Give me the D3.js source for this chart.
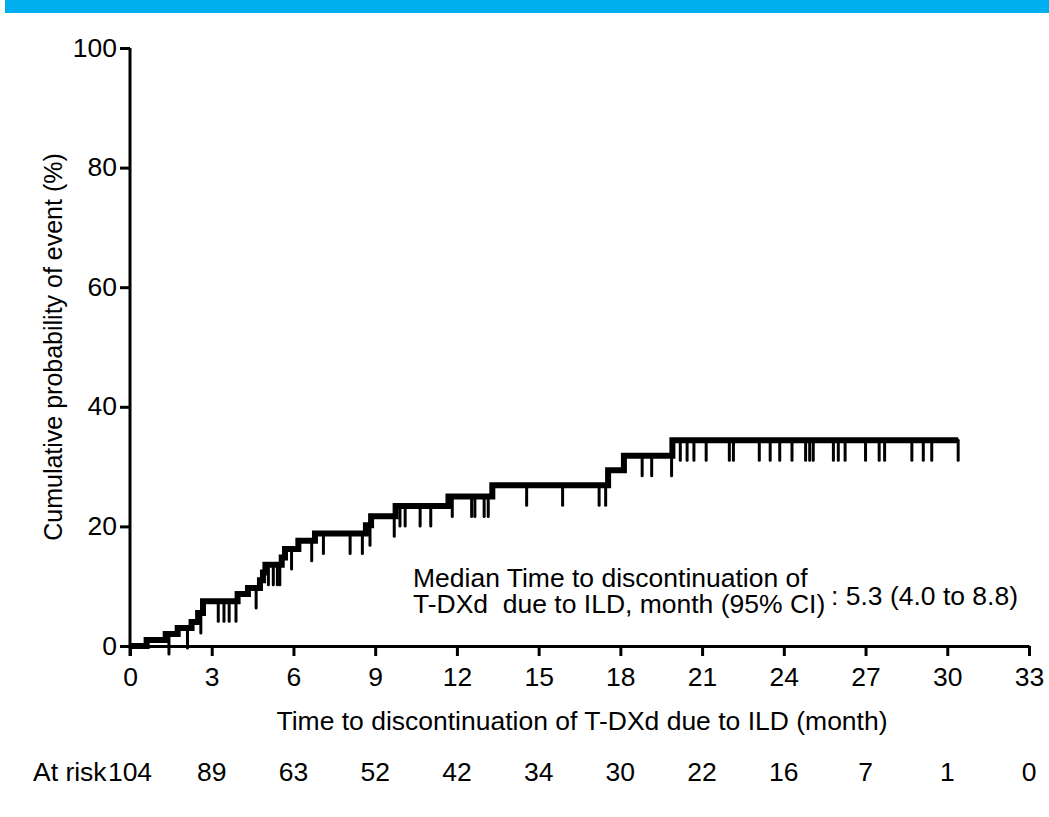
<!DOCTYPE html>
<html><head><meta charset="utf-8">
<script src="https://cdn.jsdelivr.net/npm/d3@7"></script>
<style>
html,body{margin:0;padding:0;background:#fff;}
svg{display:block;font-family:"Liberation Sans",Arial,sans-serif;}
</style></head>
<body>
<svg id="chart" width="1049" height="817"></svg>
<script>
// Step events: time (months) and cumulative probability (%) after the step
const eventTimes = [0.61, 1.31, 1.75, 2.26, 2.5, 2.68, 3.95, 4.33, 4.77, 4.88, 4.97, 5.57, 5.69, 6.18, 6.79, 8.66, 8.85, 9.75, 11.69, 13.3, 17.55, 18.13, 19.91];
const eventValues = [1.0, 2.0, 3.0, 4.0, 5.5, 7.5, 8.7, 9.7, 11.0, 12.3, 13.6, 14.8, 16.2, 17.6, 18.8, 20.2, 21.7, 23.4, 25.0, 26.9, 29.4, 31.8, 34.4];
const lastTime = 30.4;
// Censored observations (months)
const censorTimes = [1.43, 2.11, 2.6, 3.24, 3.45, 3.64, 3.89, 4.63, 5.08, 5.26, 5.41, 5.5, 5.93, 6.67, 7.1, 8.08, 8.53, 8.81, 9.7, 9.91, 10.1, 10.65, 11.04, 11.83, 12.54, 12.66, 13.0, 13.15, 14.56, 15.88, 17.22, 17.46, 18.8, 19.15, 19.88, 20.2, 20.45, 20.7, 21.15, 22.0, 22.15, 23.1, 23.5, 23.85, 24.3, 24.8, 24.95, 25.08, 25.82, 26.0, 26.25, 27.0, 27.5, 27.7, 28.7, 29.12, 29.43, 30.4];
const xTicks = [0, 3, 6, 9, 12, 15, 18, 21, 24, 27, 30, 33];
const yTicks = [0, 20, 40, 60, 80, 100];
const atRisk = [104, 89, 63, 52, 42, 34, 30, 22, 16, 7, 1, 0];

const svg = d3.select("#chart");
const FS = 25;
const SX = 1.06;
const x = d3.scaleLinear().domain([0, 33]).range([130, 1029]);
const y = d3.scaleLinear().domain([0, 100]).range([646, 48]);

// banner
svg.append("rect").attr("x", 5).attr("y", 0).attr("width", 1044).attr("height", 13).attr("fill", "#00AEEF");

// axes
const yAxis = svg.append("g").attr("transform", `translate(${x(0)},0)`)
  .call(d3.axisLeft(y).tickValues(yTicks).tickSize(10).tickPadding(3).tickSizeOuter(0));
const xAxis = svg.append("g").attr("transform", `translate(0,${y(0)})`)
  .call(d3.axisBottom(x).tickValues(xTicks).tickSize(10).tickPadding(12).tickSizeOuter(0));
[yAxis, xAxis].forEach(g => {
  g.selectAll("path").attr("stroke", "#000").attr("stroke-width", 3);
  g.selectAll("line").attr("stroke", "#000").attr("stroke-width", 3);
  g.selectAll("text").attr("font-size", FS).attr("fill", "#000")
    .attr("font-family", "Liberation Sans, Arial, sans-serif")
    .attr("transform", `scale(${SX},1)`);
});
yAxis.selectAll("text").attr("x", -13 / SX);
yAxis.select("path").attr("d", `M0,${y(100)}V${y(0)+10}`);

// step curve
const pts = [[0, 0]].concat(eventTimes.map((t, i) => [t, eventValues[i]]));
pts.push([lastTime, eventValues[eventValues.length - 1]]);
svg.append("path").datum(pts)
  .attr("fill", "none").attr("stroke", "#000").attr("stroke-width", 6)
  .attr("stroke-linejoin", "miter")
  .attr("d", d3.line().x(d => x(d[0])).y(d => y(d[1])).curve(d3.curveStepAfter));

function levelAt(t) {
  let v = 0;
  eventTimes.forEach((et, i) => { if (et <= t) v = eventValues[i]; });
  return v;
}
svg.append("g").selectAll("line").data(censorTimes).join("line")
  .attr("x1", d => x(d)).attr("x2", d => x(d))
  .attr("y1", d => y(levelAt(d))).attr("y2", d => y(levelAt(d)) + 20)
  .attr("stroke", "#000").attr("stroke-width", 3).attr("stroke-linecap", "round");

function label(px, py, txt, anchor) {
  return svg.append("text")
    .attr("transform", `translate(${px},${py}) scale(${SX},1)`)
    .attr("text-anchor", anchor || "start").attr("font-size", FS)
    .attr("xml:space", "preserve").text(txt);
}

// axis titles
svg.append("text").attr("transform", `translate(62,${(y(0)+y(100))/2}) scale(${SX},1) rotate(-90)`)
  .attr("text-anchor", "middle").attr("font-size", FS).text("Cumulative probability of event (%)");
label(582, 730, "Time to discontinuation of T-DXd due to ILD (month)", "middle");

// annotation
label(413, 587, "Median Time to discontinuation of");
label(413, 613, "T-DXd  due to ILD, month (95% CI)");
label(831, 605, ": 5.3 (4.0 to 8.8)");

// at risk
label(33, 781, "At risk");
atRisk.forEach((d, i) => label(x(xTicks[i]), 781, String(d), "middle"));
</script>
</body></html>
